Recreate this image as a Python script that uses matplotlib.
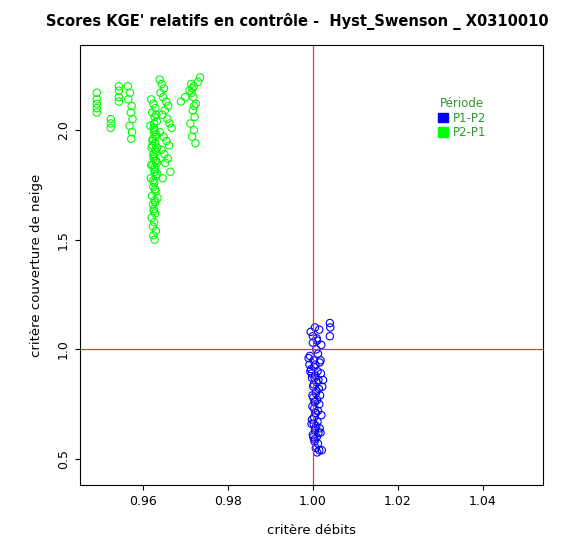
import matplotlib
matplotlib.use("Agg")
import matplotlib.pyplot as plt
from matplotlib.patches import Patch

# P2-P1 (green) : critere debits / critere couverture de neige
green_x = [0.9492] * 5 + [0.9525] * 3 + [0.9544] * 4 + \
    [0.9565, 0.9570, 0.9566, 0.9574, 0.9572, 0.9576, 0.9569, 0.9575, 0.9573] + \
    [0.9620, 0.9625, 0.9630, 0.9622, 0.9628, 0.9633, 0.9618, 0.9627, 0.9631, 0.9624,
     0.9629, 0.9621, 0.9632, 0.9626, 0.9630, 0.9623, 0.9628, 0.9634, 0.9619, 0.9627,
     0.9625, 0.9630, 0.9622, 0.9628, 0.9624, 0.9626, 0.9629, 0.9621, 0.9627, 0.9624,
     0.9631, 0.9625, 0.9628, 0.9623, 0.9630, 0.9626, 0.9633, 0.9628, 0.9631, 0.9635,
     0.9629, 0.9626, 0.9632, 0.9627, 0.9630, 0.9625, 0.9628,
     0.9623, 0.9627, 0.9632, 0.9625, 0.9629, 0.9620, 0.9634, 0.9626] + \
    [0.9640, 0.9645, 0.9650, 0.9642, 0.9648, 0.9655, 0.9660, 0.9652, 0.9646, 0.9658,
     0.9663, 0.9668, 0.9641, 0.9649, 0.9656, 0.9662, 0.9644, 0.9651, 0.9659, 0.9665,
     0.9647, 0.9653] + \
    [0.9690, 0.9700, 0.9710, 0.9720, 0.9730, 0.9735, 0.9715, 0.9725, 0.9718, 0.9722,
     0.9712, 0.9720, 0.9716, 0.9724, 0.9719, 0.9714, 0.9721, 0.9717]
green_y = [2.17, 2.14, 2.12, 2.10, 2.08] + [2.05, 2.03, 2.01] + [2.20, 2.18, 2.15, 2.13] + \
    [2.20, 2.17, 2.14, 2.11, 2.08, 2.05, 2.02, 1.99, 1.96] + \
    [2.14, 2.12, 2.10, 2.08, 2.06, 2.04, 2.02, 2.00, 1.98, 1.96,
     1.94, 1.92, 1.90, 1.88, 1.86, 1.84, 1.82, 1.80, 1.78, 1.76,
     1.74, 1.72, 1.70, 1.68, 1.66, 1.64, 1.62, 1.60, 1.58, 1.56,
     1.54, 1.52, 1.50, 1.93, 1.91, 1.87, 1.85, 1.83, 1.79, 1.69,
     1.67, 1.63, 2.07, 2.03, 1.97, 1.89, 1.81,
     1.95, 1.99, 1.86, 1.77, 1.73, 1.84, 1.92, 2.01] + \
    [2.23, 2.21, 2.19, 2.17, 2.15, 2.13, 2.11, 2.09, 2.07, 2.05,
     2.03, 2.01, 1.99, 1.97, 1.95, 1.93, 1.91, 1.89, 1.87, 1.81,
     1.78, 1.85] + \
    [2.13, 2.15, 2.18, 2.20, 2.22, 2.24, 2.17, 2.12, 2.09, 2.06,
     2.03, 2.00, 1.97, 1.94, 2.15, 2.21, 2.11, 2.19]

# P1-P2 (blue)
blue_x = [0.9995, 1.0000, 1.0005, 1.0010, 1.0015, 1.0020, 0.9990, 1.0008, 1.0012, 1.0018,
          0.9992, 1.0003, 1.0011, 1.0016, 0.9996, 1.0006, 1.0013, 1.0019, 0.9998, 1.0009,
          1.0002, 1.0014, 1.0022, 0.9994, 1.0007, 1.0017, 1.0001, 1.0010, 1.0004, 1.0015,
          0.9999, 1.0012, 1.0006, 1.0020, 1.0003, 1.0011, 0.9997, 1.0008, 1.0016, 1.0005,
          1.0013, 1.0000, 1.0009, 1.0018, 1.0004, 1.0012, 1.0007, 1.0015, 1.0010, 1.0021,
          1.0040, 1.0041, 1.0040, 1.0024,
          0.9993, 1.0002, 1.0006, 0.9997, 1.0004, 1.0001, 1.0008, 0.9999, 1.0005, 1.0003,
          1.0007, 0.9998, 1.0002, 1.0006, 1.0001, 1.0004, 1.0009, 1.0000]
blue_y = [1.08, 1.06, 1.10, 1.04, 1.09, 1.02, 0.96, 1.00, 0.98, 0.95,
          0.93, 0.92, 0.90, 0.94, 0.91, 0.88, 0.86, 0.89, 0.87, 0.85,
          0.84, 0.82, 0.83, 0.90, 0.80, 0.79, 0.78, 0.77, 0.76, 0.75,
          0.74, 0.72, 0.71, 0.70, 0.69, 0.67, 0.66, 0.65, 0.64, 0.63,
          0.62, 0.61, 0.60, 0.62, 0.58, 0.57, 0.55, 0.54, 0.53, 0.54,
          1.12, 1.10, 1.06, 0.86,
          0.97, 0.95, 0.93, 0.89, 0.87, 0.83, 0.81, 0.79, 0.76, 0.73,
          0.71, 0.68, 0.66, 0.64, 0.60, 0.59, 1.05, 1.03]

fig, ax = plt.subplots(figsize=(5.82, 5.42), dpi=100)
fig.subplots_adjust(left=0.137, right=0.933, top=0.917, bottom=0.105)

ax.scatter(green_x, green_y, s=28, facecolors="none", edgecolors="#00ff00", linewidths=0.8)
ax.scatter(blue_x, blue_y, s=28, facecolors="none", edgecolors="#0000ff", linewidths=0.8)
ax.axvline(1.0, color="#ff3030", lw=0.9)
ax.axhline(1.0, color="#ff3030", lw=0.9)

ax.set_xlim(0.9452, 1.0541)
ax.set_ylim(0.381, 2.388)
ax.set_xticks([0.96, 0.98, 1.00, 1.02, 1.04])
ax.set_xticklabels(["0.96", "0.98", "1.00", "1.02", "1.04"])
ax.set_yticks([0.5, 1.0, 1.5, 2.0])
ax.set_yticklabels(["0.5", "1.0", "1.5", "2.0"], rotation=90, va="center")
ax.tick_params(labelsize=9)
ax.set_xlabel("critère débits", fontsize=9.5, labelpad=12)
ax.set_ylabel("critère couverture de neige", fontsize=9.5, labelpad=10)
ax.set_title("Scores KGE' relatifs en contrôle -  Hyst_Swenson _ X0310010",
             fontsize=10.5, fontweight="bold", pad=14, x=0.47)

handles = [Patch(color="#0000ff", label="P1-P2"), Patch(color="#00ff00", label="P2-P1")]
leg = ax.legend(handles=handles, title="Période", loc="upper left",
                bbox_to_anchor=(0.75, 0.905), frameon=False, fontsize=8.5,
                title_fontsize=8.5, handlelength=0.9, handleheight=0.9,
                handletextpad=0.4, labelspacing=0.1, labelcolor="#2e9a2e")
leg.get_title().set_color("#2e9a2e")

fig.savefig("out.png", dpi=100)
